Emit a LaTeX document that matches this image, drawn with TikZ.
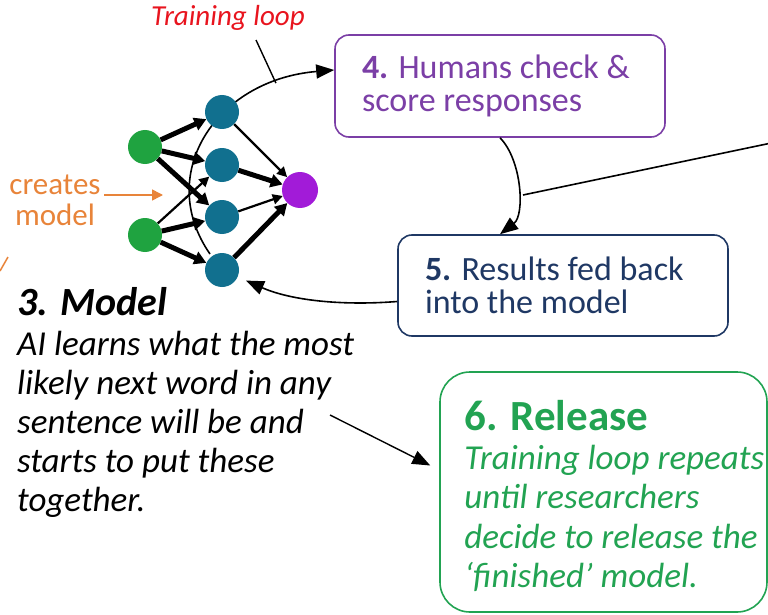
\documentclass[tikz,border=0pt]{standalone}
\usepackage{fontspec}
\setmainfont{Carlito}
\usetikzlibrary{arrows.meta}
\definecolor{stepfour}{HTML}{7B3FA6}
\definecolor{stepfive}{HTML}{1F3864}
\definecolor{stepsix}{HTML}{22A352}
\definecolor{inputgreen}{HTML}{1FA340}
\definecolor{hiddenteal}{HTML}{11708F}
\definecolor{outputpurple}{HTML}{A21BD8}
\definecolor{createsorange}{HTML}{E8843A}
\definecolor{loopred}{HTML}{E8141E}
\begin{document}
\begin{tikzpicture}[x=1pt,y=1pt,>={Triangle[length=18pt,width=14pt]},line join=bevel,
  neuron/.style={circle,inner sep=0pt,minimum size=34pt,draw=none},
  stepbox/.style={rounded corners=14pt,line width=1.6pt,align=flush left,inner xsep=27pt,text width=276pt},
  wthin/.style={line width=2.2pt,-{Triangle[length=10pt,width=10pt]}},
  wthick/.style={line width=5pt,-{Triangle[length=12pt,width=13pt]}},
  loopline/.style={line width=1.6pt}]
\useasboundingbox (0,0) rectangle (768,-615);
%%
\node (box4) at (500,-86) [stepbox,draw=stepfour,text=stepfour,minimum height=102pt,font=\fontsize{34}{33}\selectfont] {\textbf{4.} Humans check \&\\score responses};
  \node (box5) at (563,-285.5) [stepbox,draw=stepfive,text=stepfive,minimum height=101pt,font=\fontsize{34}{33}\selectfont] {\textbf{5.} Results fed back\\into the model};
  \node (box6) at (603.5,-492) [draw=stepsix,line width=1.6pt,rounded corners=30pt,minimum width=327pt,minimum height=240pt] {};
  \node (box6text) at ([xshift=25pt,yshift=-29pt]box6.north west) [anchor=north west,inner sep=0pt,text=stepsix,align=flush left,font=\itshape\fontsize{35}{39.5}\selectfont] {{\upshape\bfseries\fontsize{43}{43}\selectfont 6. Release}\\[-1pt]Training loop repeats\\until researchers\\decide to release the\\‘finished’ model.};
  \node (modeltitle) at (17,-315) [anchor=base west,inner sep=0pt,font=\bfseries\itshape\fontsize{40}{42}\selectfont] {3. Model};
  \node (modelbody) at (17,-331) [anchor=north west,inner sep=0pt,align=flush left,font=\itshape\fontsize{35}{39}\selectfont] {AI learns what the most\\likely next word in any\\sentence will be and\\starts to put these\\together.};
  \node (looplbl) at (228,-18) [text=loopred,font=\itshape\fontsize{29}{30}\selectfont] {Training loop};
  \node (creates) at (55,-200) [text=createsorange,align=center,font=\fontsize{31}{31}\selectfont] {creates\\model};
%
\coordinate (loopstart) at (210,-254);
  \coordinate (lblfoot) at (256,-40);
  \coordinate (createtip) at (163,-195);
  \coordinate (farA) at (523,-195);
  \coordinate (farB) at (800,-137);
  \coordinate (textptr) at (330,-415);
  \draw [black,loopline,->] (loopstart) ..controls (155,-175) and (215,-80) .. coordinate[pos=0.82] (loopmark) ([yshift=16pt]box4.west);
  \draw [black,line width=1.4pt] (lblfoot) -- (loopmark);
  \draw [black,loopline,->] (box4.south) ..controls (522,-160) and (525,-215) .. (box5.north -| box4.south);
  \draw [black,loopline] (farA) -- (farB);
  \draw [black,line width=1.4pt,->,shorten >=10pt] (textptr) -- ([yshift=22pt]box6.west);
  \draw [createsorange,line width=1.6pt,-{Triangle[length=11pt,width=11pt]}] (creates.east |- createtip) -- (createtip);
  \draw [createsorange,line width=1.5pt] (0,-271) -- (8,-257);
%
\node (in1) at (145,-147) [neuron,fill=inputgreen] {};
  \node (in2) at (145,-235) [neuron,fill=inputgreen] {};
  \node (hid1) at (222,-112) [neuron,fill=hiddenteal] {};
  \node (hid2) at (222,-165) [neuron,fill=hiddenteal] {};
  \node (hid3) at (222,-217) [neuron,fill=hiddenteal] {};
  \node (hid4) at (222,-270) [neuron,fill=hiddenteal] {};
  \node (out) at (300,-190) [neuron,fill=outputpurple,minimum size=36pt] {};
  \draw [black,wthick] (in1) -- (hid1);
  \draw [black,wthick] (in1) -- (hid2);
  \draw [black,wthick] (in1) -- (hid3);
  \draw [black,wthin] (in2) -- (hid2);
  \draw [black,wthick] (in2) -- (hid3);
  \draw [black,wthick] (in2) -- (hid4);
  \draw [black,wthin] (hid1) -- (out);
  \draw [black,wthick] (hid2) -- (out);
  \draw [black,wthin] (hid3) -- (out);
  \draw [black,wthick] (hid4) -- (out);
  \draw [black,loopline,->,shorten >=9pt] ([yshift=-16pt]box5.west) ..controls (340,-306) and (290,-300) .. (hid4);
%
\end{tikzpicture}
\end{document}
